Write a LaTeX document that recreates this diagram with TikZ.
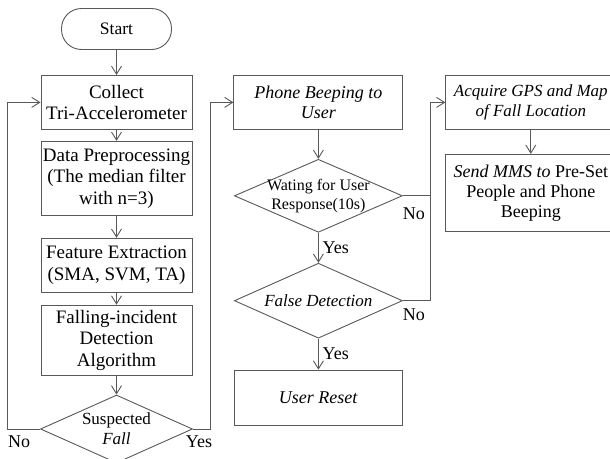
\documentclass[tikz,border=0pt]{standalone}
\usepackage{fontspec}
\setmainfont{Liberation Serif}
\usetikzlibrary{shapes.geometric, arrows.meta, positioning, calc}

\begin{document}
\begin{tikzpicture}[
    x=1pt, y=-1pt,
    node distance=20pt,
    box/.style={draw=black!65, line width=0.9pt, minimum height=54pt, align=center, inner sep=1pt, font=\fontsize{18}{20}\selectfont},
    lbox/.style={box, minimum width=151pt, font=\fontsize{19}{21.5}\selectfont},
    rbox/.style={box, minimum width=169pt},
    dia/.style={diamond, draw=black!65, line width=0.9pt, inner sep=0pt, minimum width=168pt, minimum height=74pt},
    dtxt/.style={align=center, inner sep=0pt, font=\fontsize{17}{20}\selectfont},
    lbl/.style={inner sep=1pt, font=\fontsize{18}{20}\selectfont},
    arrow/.style={-{Straight Barb[length=8pt, width=10pt]}, draw=black!65, line width=0.9pt},
    link/.style={draw=black!65, line width=0.9pt}
]
\useasboundingbox (0,0) rectangle (610,458);
\fill[white] (0,0) rectangle (610,458);
\clip (0,0) rectangle (610,458);

% detection column
\node[box, rounded corners=20pt, minimum width=110pt, minimum height=41pt, font=\fontsize{17.5}{20}\selectfont] (start) at (116.5,29) {Start};
\node[lbox, below=25pt of start] (collect) {Collect\\Tri-Accelerometer};
\node[lbox, minimum height=74pt, below=11pt of collect] (prep) {Data Preprocessing\\(The median filter\\with n=3)};
\node[lbox, below=22pt of prep] (feat) {Feature Extraction\\(SMA, SVM, TA)};
\node[lbox, minimum height=70pt, below=12pt of feat] (algo) {Falling-incident\\Detection\\Algorithm};
\node[dia, minimum width=152pt, minimum height=68pt, below=19pt of algo] (susp) {};
\node[dtxt] (susp-t) at (susp) {Suspected\\\textit{Fall}};

% user response column
\node[rbox, right=41pt of collect] (beep) {\textit{Phone Beeping to}\\\textit{User}};
\node[dia, minimum height=73pt, below=29pt of beep] (wait) {};
\node[dtxt, font=\fontsize{16}{19}\selectfont] (wait-t) at (wait) {Wating for User\\Response(10s)};
\node[dia, minimum height=75pt, below=30pt of wait] (false) {};
\node[dtxt] (false-t) at (false) {\textit{False Detection}};
\node[rbox, minimum width=168pt, minimum height=55pt, below=31pt of false] (reset) {\textit{User Reset}};

% alarm column
\node[box, minimum width=170pt, right=42pt of beep, font=\fontsize{17}{20}\selectfont] (gps) {\textit{Acquire GPS and Map}\\\textit{of Fall Location}};
\node[box, minimum width=170pt, minimum height=77pt, below=24pt of gps] (mms) {\textit{Send MMS to} Pre-Set\\People and Phone\\Beeping};

\draw[arrow] (start) -- (collect);
\draw[arrow] (collect) -- (prep);
\draw[arrow] (prep) -- (feat);
\draw[arrow] (feat) -- (algo);
\draw[arrow] (algo) -- (susp);
\draw[arrow] (susp.west) -- ++(-33pt,0) |- (collect.west);
\draw[arrow] (susp.east) -- ++(17pt,0) |- (beep.west);

\draw[arrow] (beep) -- (wait);
\draw[arrow] (wait) -- (false);
\draw[arrow] (false) -- (reset);
\draw[arrow] (wait.east) -- ++(28pt,0) coordinate (bus) |- (gps.west);
\draw[link] (false.east) -| (bus);
\draw[arrow] (gps) -- (mms);

\node[lbl] (no-loop) at ([xshift=-21pt, yshift=-13pt]susp.west) {No};
\node[lbl] (yes-fall) at ([xshift=6pt, yshift=-13pt]susp.east) {Yes};
\node[lbl, anchor=west] (yes-wait) at ([xshift=3pt]$(wait.south)!0.5!(false.north)$) {Yes};
\node[lbl, anchor=west] (yes-false) at ([xshift=3pt]$(false.south)!0.5!(reset.north)$) {Yes};
\node[lbl] (no-wait) at ([xshift=11pt, yshift=-18pt]wait.east) {No};
\node[lbl] (no-false) at ([xshift=11pt, yshift=-14pt]false.east) {No};
\end{tikzpicture}
\end{document}
